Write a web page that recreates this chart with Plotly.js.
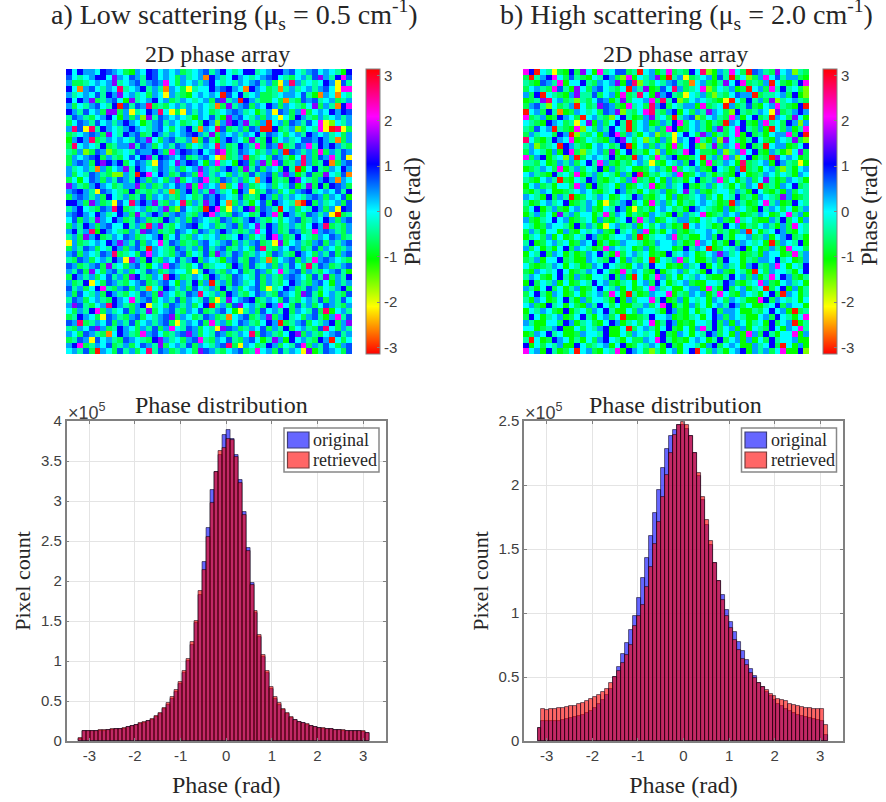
<!DOCTYPE html>
<html><head><meta charset="utf-8">
<script src="https://cdn.plot.ly/plotly-3.0.1.min.js"></script>
<style>html,body{margin:0;padding:0;background:#fff}#chart{width:886px;height:802px}</style>
</head><body><div id="chart"></div>
<script>
// Hand-estimated phase levels, one letter per cell.
const phaseLevels = {c:0, d:0.38, e:0.72, b:1.05, v:1.6, m:2.1, p:2.7, r:-3.05, o:-2.6, y:-2.1, l:-1.55, g:-1.05, t:-0.72, s:-0.38};

const lowScatterRows = [
"bcbddcbedc tgdcbecdcd tscdesdbcs cbbscdbbde csdecdcsgb",
"ecscdbbcvd cedsbecdct dscdobdscb dcscdebcst cdsevdsbme",
"dttscdcdvs cdesdedmct dcdsdbcscs dcdesdtydp dscscbdyes",
"bcodecsdcp scdbsdsodc tysccbdebd cobdctsosd scdsdecymm",
"dscdcesbdv cdsctdcyds tgcdcdcrec bscdttscdd cesgodcocs",
"bcbdvtsdec gvscdbcdts dcscdtevsd rbdsttctos tedescdtsd",
"dtcsdecsbr esedptstcd sdcdcsotvs detdcbdtdc stcvtdsobm",
"bdsecdtvvt dyscbdpcyt ydsdctscde dscgsdyedt dmtcdcbdbe",
"sedstcdbcg dtdlvsedcd csgdcesgvd ecsdtdcyct bdstdscdsd",
"tcedsecdsd bdcgsdesdc tsctbdldvb dvstdrcdte dsecmylcsd",
"dpeypsbdcs dbdcsdectc dbsodcpets dtedrrbtsd ltcsmyrpyt",
"tscdedtvcs bdetsbdsdc debdsvtdcd sdcbsedctc dsbdcdsctd",
"gdbdptsdcd csedvctdes sdotesgdbd ctvstbtcds ceedbdsotd",
"tpcdcsbtsd dvsedtcdse dtcsdcpdts bdsmtedpts edmsbdbdst",
"stdltedlts cseddbdtmd bedbcdvmts edctsdtdre dsdtmtdsed",
"tdcdebtdst cecbvsbedc etsdecyots dptsctedsg cpdtedmsey",
"tdedtbvbdb tcedsyedcv dbecgdmscg betdvtmets dpdtsbotde",
"dscdsodtcd vsbdcsedsd tcdvdstdbd tvsetdctbs rgcbstdcbd",
"dtcsedstll dsrbmcbdts edtmdsdctd stesdetdvd gsettvcseo",
"tcgcedtdse dsbdtdctdv tcdemsteds dtcodbtstb vcstdbdodc",
"vdstdbdcts ddvtdtsdce dvtmdcdotc vdtscdtcse gsvtbtbedt",
"debdsyedcs tbtstsdsot dbtdsvdscg bdytsedtct debscdcesb",
"tdedsdtbcs dtsetdcdst dctsedbdcs etstbdtdsd csdedtdceg",
"bbdtvdtsye cpdbdvstdc ptdsvdbcot dsgcetbdcs orbtdscdte",
"sdbcstedpb tscdtsdvtl ecstrbmtyd sbvtedsrcd tcsbdtdybe",
"debdcbdscb dtvsdbdtde dstdbmdste dctsbdmtbd stedsdyrts",
"cetdsvdcbd tsedtstbds dtedcstedt sdbdstctcd etsdcbdtde",
"tdsbdtdecc bsdtpdvstc debscdtsde tdcvsbdtsd stcbdptstd",
"dbsdpgbdcs tdsvedtste dctedsdbds tsdmcbdtse dtsmdedstd",
"sdtvdbtsdc edtscdbtce stdcscdtsc bdtcsbmdts bcstdcedts",
"ydtscdcbdv dsetdcmsed tstdecsdet dsdetsyvtc dstdetdsde",
"tdsedtcsbd tdesrdcste dsdtesdets dctepstdce dtsetdctsd",
"detdcsedpt sctemdcstd etcsetvdse dtsdctedst bdctdsetde",
"stedtcdsbd yvdtbstdce sdbtdcsgde stedsotcde tdsmdedcst",
"edtsdetvsc tdesgcdmed stcetscctb dtescdtdse ctpsedtsde",
"dsetvctdes dtcsedtsdc ctysbdstdc etsedtcmsd etdstcdesg",
"tbdsdtcesd tvbstdcpbd tsdctbdste dcsetdstde dctesvtdsb",
"dtsbycteds tcdetsdecg dsbtdrsdte dscetdstcb dstdecgdsd",
"esdtcbmstd etdsoctbds dtecsdtbsd tcdetyscbd tsedtcsdbt",
"dtecsdtbds tcsedtvdct sedpcsdtbd stcedstedc tvesgcdste",
"sedtcdstbd cmsdetcdse tdcsetysvc debtsdctes tcdsetdsec",
"dvestcdpbd stdbyscted sdtcbrsdte vcdstbdmct esdtcedstd",
"ctdsbmtdsc etdsvtcdes tdcetsdecg ysdtecdsbt dcsetpgcds",
"tsbdctyeds tdetcsdevt dctsedtsoc detsdvtdbs ctdesgdmse",
"edptsdcetd setcdsdety sdcetmsdtc edstcbdrts detcsdbtdv",
"stdcevdtsb dctdsetdmc sedtcsyved tsdcetdsbt cdstepctds",
"dctedstocb dstmdectsd evdtcsedts dcptedstcb vtdstcdesd",
"tsedyecdst edcstbvdsc tdemstdces tdecgsvdgb cdstbdrctc",
"dbmtsdcets dtcedsvtcd setdcsdept ydctsbdtcs emtdsectde",
"cdsetrdcte sdtcpsedts dctvedstcd etsmcdtesd cyvgsedcte"
];

const highScatterRows = [
"mbrcsytgbt vcgmsceets rcdgsmtstb cplgdsmctr edstvcdlst",
"trsdbmctes tgcsbdtlmg csdvgrsdyt scdgesrtcl tdmcesddtg",
"stgedsmgcc bstdcdvgep lstcsdesto cdtgsvcbmt stdrctgsbm",
"tcdstmesgv ctdecstcrd svgtecpdts cmltcsdgtr cdtmsbsctl",
"dtbrcstgdv ssetcdgmts pcgvdbstyc sdtlstcedd rtsscdtbgl",
"gtsvpcdtsl stcedgsvtc cdmtpsbltc dcstgyrctb sdtvlscdst",
"tdeslctsdr ctsvedtgms ctpdbtcsdd gmtscrdtse tgcdmstgbr",
"rcdtbsogtd csctedvlst cmpstdbgct dsvdctlbst sdcyvtsdbd",
"mtsdgtbdct rcdstlcbsg tdvsctrsde ltcdstmdgc btsrdctvcg",
"cstgbdctsy cvgdtcbsrt cdgtdsbmtc dsgstrdcbt gdmsctbdld",
"stecdrstgm lctdsbcsrt cdsdtmbgtc dsgdvtcmbs tdgrctdgsm",
"tdscctbdrl stcgdbmtds gcdltsycbc tvdgstcmgb tsgcddmtbr",
"pctgsbdcmg tcstgdbvct clsgdtydcb msgdlvctgs bctgdcsvtl",
"sdltscrbds tgcdctsbrg cdtdsgmtcb tlsvtdcmgb tsrcddgtcb",
"tdcsgdgbmt lscdtvgcbt sgcldgtsmb cttgdlsdmc btgdsglcvt",
"mtdbgscldr tcdcsbtgtr dctmsdbggt crsdtmdlcb gstrvcdcgt",
"sstcgtdsdt cbsmdtgstc dsytgcsdtb cgmtsdcgpt scdgbdstyg",
"gtsdctmgsd tcsbgdtscg gtcdsgmtcs dtgbcsgdrt sgcdtlsgcd",
"cdstgbsctm gsdtcsgdtb pgstcsdmgt cdsgstgbcg tsdctcsgdc",
"stgcdsrtgc sbdtgsctdm tsgcgdtsgc btsdmtcgsd tcvsgtdcsg",
"gcdtsgcctm dgbtscgdgt csmgtdscbt gsdtcsgctd crtsgdcbts",
"tgsdcggtsc dctgscbdts gctsdgtcvs dtgscctdsg bctgsgdtcs",
"dcsgbtdsrg tcsdcgtcsb dtgscgdgts cdtcgcsbts gdcstvdgts",
"sgtcdscbgt sdcgytsdbt cgmsdtcgst cdcsgtrdsg tcmsdgtbcs",
"tcbgsdtgcd sdtgcsbdgy tsgcdctsgb dcstgdgsct gbsdctcgsd",
"gsdtcgvsdt ccgsmtdcgs tgdcsgbtds cmgtsdcdgt sdcgtcmsdg",
"dtgscbcdgt scgdtgscbt msdgtcsddt gcscdtgmsc tggdsbtcgd",
"csgtdccsgb tdsgycdtsd gctcdsgtrc dcsgtbcdgs tcdsgdtmcs",
"tdsgccgdtg cscdtgbsct dmgsgcdtgs ccdctsgtdr cgscbdtgcs",
"gsctdgcgtc sbdtgsccdt rgsccdmtsg gcdtbsgccd tsdgcdbtsg",
"sbgtcdscgt dcbgsgtdcc sgtdccdsgt mdcgsgbtdc scgrtdcsbg",
"dtcgsgcbtd csgtmdcscg tdgsccgtbs dcrgtcsdbg cgtdsgmcct",
"gcsbtdcgsg tdcbsgmtcd scgtgbscdc gtcdvdscgt sgdccgtmsd",
"tsdgccbtsg gdcstbcgds tcrgcsdmtc ggsdtbccgs tddcbscgtd",
"ctgtsdcgcs gtdcbcstgc dsbccgtgds cbgctdscgd bstdmcgcsb",
"tgdcscbcgt sdcbctgmsd ctgbgscdtc sgbcdtgcsg rctdccsgcb",
"sdctgcbsgd tgccsbtdgr cgsmdtcgcs dctggsbcdt dgsmcbdtgs",
"gbtcsdgcgt csbcdtgscg cdtbcgscdt ggccsbdtgs cmdtgcdscg",
"dsgcbtcgsd gtcbcsdgcg tcmdscggcd dgmsgbtcdg scrtcbgdgs",
"tcbsgdcgtc gscdtmcgrs gtdccmgstd cdgsmctgdc sgcbtrdcgs",
"sgdcgtcbsg dtccsgbgdt ccmsbgtdgc scgdctdcsg gmbtdcscgc",
"cdtgbscgct gdsbctcggs sdtcmbgsgd tcgcdsbdtc ggscbtdccg",
"gcsdctgbgs ctdcbsggct dccsgbdtgc gscbtddcgg stcbcdgrts",
"tbcgscdgtc bsgcdtcrgg tsbccdgtgs cgcbdtdcsg gcdtbcsgcm",
"dsggcctbdg sctgcbdgsc tcmgsbdgtg ccsbtdgdcg scgbtcdrgs",
"ccgtsdbggc tcsdbggcrt cdsgcbtgcg dmsbtcdgdg cstbcgdcms",
"gtdcbscggt dccsbggctd cscgbtgdcg csbdtcgdgm dtbsgccmgd",
"srcgtbdcgs gctdbcsgct tdcmbsgtgc dcgsbtcdgd gctbsccdgg",
"bgctcsdggb ctscdgcbgt csdcgbtgcc sgdbtcdcgg dscbtrcgdg",
"mcdgbsgtcr cdtgcsmgbd ctlsgcdgcb rctdsgcdbg dsdtcmggbl"
];

// Histogram heights in units of 10^5 pixels.
const lowOriginal = [0.03,0.125,0.125,0.125,0.125,0.128,0.13,0.135,0.14,0.145,0.15,0.155,0.17,0.185,0.195,0.215,0.225,0.245,0.265,0.3,0.34,0.395,0.45,0.525,0.61,0.71,0.855,1.0,1.2,1.47,1.83,2.24,2.66,3.14,3.36,3.58,3.825,3.89,3.78,3.58,3.26,2.86,2.41,1.97,1.6,1.3,1.05,0.85,0.65,0.53,0.455,0.39,0.335,0.29,0.26,0.235,0.22,0.205,0.185,0.17,0.16,0.155,0.15,0.145,0.14,0.135,0.13,0.13,0.125,0.125,0.125,0.118,0.095];
const lowRetrieved = [0.035,0.13,0.13,0.13,0.13,0.132,0.135,0.14,0.145,0.15,0.155,0.16,0.175,0.19,0.2,0.22,0.235,0.255,0.28,0.315,0.355,0.41,0.475,0.55,0.635,0.74,0.87,1.03,1.24,1.5,1.88,2.14,2.55,2.97,3.36,3.62,3.66,3.77,3.76,3.55,3.23,2.83,2.38,1.95,1.62,1.33,1.07,0.87,0.68,0.55,0.47,0.4,0.345,0.3,0.265,0.24,0.225,0.21,0.19,0.175,0.165,0.16,0.155,0.147,0.142,0.137,0.133,0.13,0.128,0.127,0.13,0.128,0.095];
const highOriginal = [0.10,0.154,0.154,0.154,0.159,0.16,0.167,0.172,0.177,0.185,0.193,0.206,0.219,0.232,0.258,0.29,0.318,0.36,0.41,0.50,0.575,0.677,0.766,0.87,0.98,1.116,1.27,1.43,1.6,1.78,1.96,2.13,2.28,2.38,2.43,2.47,2.47,2.435,2.38,2.25,2.07,1.88,1.69,1.53,1.39,1.25,1.14,1.02,0.927,0.85,0.77,0.70,0.635,0.5625,0.505,0.453,0.42,0.38,0.35,0.32,0.29,0.27,0.25,0.232,0.219,0.206,0.193,0.187,0.18,0.172,0.167,0.159,0.05];
const highRetrieved = [0.10,0.25,0.245,0.25,0.253,0.255,0.258,0.265,0.27,0.276,0.286,0.30,0.31,0.328,0.34,0.36,0.38,0.41,0.45,0.50,0.55,0.609,0.674,0.75,0.9,0.98,1.06,1.2,1.36,1.54,1.71,1.91,2.08,2.25,2.39,2.47,2.49,2.47,2.38,2.25,2.09,1.91,1.73,1.56,1.39,1.25,1.105,0.98,0.883,0.786,0.708,0.64,0.59,0.53,0.49,0.453,0.42,0.395,0.37,0.35,0.33,0.323,0.31,0.292,0.281,0.27,0.266,0.26,0.258,0.253,0.25,0.25,0.128];

const histXTicks = [-3,-2,-1,0,1,2,3];
const lowYTicks = [0,0.5,1,1.5,2,2.5,3,3.5,4];
const highYTicks = [0,0.5,1,1.5,2,2.5];
const phaseTicks = [-3,-2,-1,0,1,2,3];
const seriesNames = ['original','retrieved'];

// ---- layout helpers
const W = 886, H = 802;
const px = x => x / W, py = y => 1 - y / H;
const SERIF = '"Liberation Serif", "DejaVu Serif", serif';
const SANS = '"Liberation Sans", Arial, sans-serif';
const TXT = '#262626', TICK = '#404040', AXIS = '#808080';

const toGrid = rows => rows.map(r => r.replace(/\s+/g, '').split('').slice(0,50).map(ch => phaseLevels[ch]));

const hsvScale = [[0,'#ff0000'],[1/6,'#ffff00'],[2/6,'#00ff00'],[3/6,'#00ffff'],[4/6,'#0000ff'],[5/6,'#ff00ff'],[1,'#ff0000']];

const heat = (rows, xa, ya, cbLeft) => ({
  type:'heatmap', z:toGrid(rows), xaxis:xa, yaxis:ya, zmin:-Math.PI, zmax:Math.PI,
  colorscale:hsvScale, zsmooth:false, hoverinfo:'skip',
  colorbar:{
    x:px(cbLeft), xanchor:'left', xpad:0, ypad:0,
    y:py(354), yanchor:'bottom', len:285, lenmode:'pixels',
    thickness:14, thicknessmode:'pixels',
    outlinecolor:AXIS, outlinewidth:1,
    tickmode:'array', tickvals:phaseTicks, ticktext:phaseTicks.map(String),
    ticks:'inside', ticklen:3, tickcolor:AXIS, tickfont:{family:SANS,size:15,color:TICK},
    title:{text:'Phase (rad)', side:'right', font:{family:SERIF,size:24,color:TXT}}
  }
});

const BIN = 0.0874;
const bars = (vals, name, fill, xa, ya, x0) => ({
  type:'bar', y:vals, x0:x0, dx:BIN, width:BIN, name:name, xaxis:xa, yaxis:ya,
  showlegend:false, hoverinfo:'skip',
  marker:{color:fill, line:{color:'rgba(10,0,20,0.65)', width:0.85}}
});

const data = [
  heat(lowScatterRows,'x','y',366),
  heat(highScatterRows,'x2','y2',823),
  bars(lowOriginal,seriesNames[0],'rgba(0,0,255,0.6)','x3','y3',-3.194),
  bars(lowRetrieved,seriesNames[1],'rgba(255,0,0,0.6)','x3','y3',-3.194),
  bars(highOriginal,seriesNames[0],'rgba(0,0,255,0.6)','x4','y4',-3.16),
  bars(highRetrieved,seriesNames[1],'rgba(255,0,0,0.6)','x4','y4',-3.16)
];

const hidden = (l,r) => ({domain:[px(l),px(r)], range:[-0.5,49.5], visible:false, fixedrange:true});
const hiddenY = () => ({domain:[py(354),py(69)], range:[49.5,-0.5], visible:false, fixedrange:true});
const axisBase = {
  ticks:'inside', ticklen:3, tickcolor:AXIS, tickwidth:1,
  showline:true, linecolor:AXIS, linewidth:1.5, mirror:'allticks', showgrid:true, gridcolor:'#e4e4e4', gridwidth:1,
  zeroline:false, tickfont:{family:SANS,size:15,color:TICK}
};
const histX = (l,r,anchor) => Object.assign({
  domain:[px(l),px(r)], range:[-3.5,3.5], anchor:anchor, tickmode:'array', tickvals:histXTicks,
  ticktext:histXTicks.map(String),
  title:{text:'Phase (rad)', standoff:13, font:{family:SERIF,size:24,color:TXT}}
}, axisBase);
const histY = (top,ticks,anchor) => Object.assign({
  domain:[py(741),py(421)], range:[0,top], anchor:anchor, tickmode:'array', tickvals:ticks,
  ticktext:ticks.map(String),
  title:{text:'Pixel count', standoff:4, font:{family:SERIF,size:22,color:TXT}}
}, axisBase);

const label = (text,x,y,size,extra) => Object.assign({
  text:text, xref:'paper', yref:'paper', x:px(x), y:py(y), xanchor:'center', yanchor:'middle',
  showarrow:false, font:{family:SERIF,size:size,color:TXT}
}, extra||{});

// Legend drawn to the reference's proportions: large swatches tight against the labels.
const legendShapes = left => {
  const rect = (x0,y0,x1,y1,fill,line,w) => ({type:'rect',xref:'paper',yref:'paper',
    x0:px(x0),x1:px(x1),y0:py(y0),y1:py(y1),fillcolor:fill,line:{color:line,width:w},layer:'above'});
  return [
    rect(left,428,left+95,472,'#ffffff','#888888',1.5),
    rect(left+3.5,432,left+25,448,'#6666ff','#3c3c78',1.2),
    rect(left+3.5,452,left+25,468,'#ff6666','#783c3c',1.2)
  ];
};
const legendLabels = left => [
  label(seriesNames[0],left+27,440,18,{xanchor:'left'}),
  label(seriesNames[1],left+27,460,18,{xanchor:'left'})
];

const layout = {
  width:W, height:H, margin:{l:0,r:0,t:0,b:0,pad:0}, paper_bgcolor:'#fff', plot_bgcolor:'#fff',
  barmode:'overlay', bargap:0, hovermode:false, showlegend:false,
  xaxis:hidden(66,352), yaxis:hiddenY(),
  xaxis2:hidden(523,809), yaxis2:hiddenY(),
  xaxis3:histX(66.5,386,'y3'), yaxis3:histY(4,lowYTicks,'x3'),
  xaxis4:histX(524,843,'y4'), yaxis4:histY(2.5,highYTicks,'x4'),
  shapes:[...legendShapes(284), ...legendShapes(741.5)],
  annotations:[
    label('a) Low scattering (μ<sub>s</sub> = 0.5 cm<sup>-1</sup>)',234,14,28),
    label('b) High scattering (μ<sub>s</sub> = 2.0 cm<sup>-1</sup>)',686,14,28),
    label('2D phase array',217,54,24),
    label('2D phase array',675,54,24),
    label('Phase distribution',221,405,24),
    label('Phase distribution',675.5,405,24),
    label('×10<sup>5</sup>',87,411,18,{font:{family:SANS,size:18,color:TICK}}),
    label('×10<sup>5</sup>',544,411,18,{font:{family:SANS,size:18,color:TICK}}),
    ...legendLabels(284), ...legendLabels(741.5)
  ]
};
Plotly.newPlot('chart', data, layout, {displayModeBar:false, responsive:false});
</script></body></html>
